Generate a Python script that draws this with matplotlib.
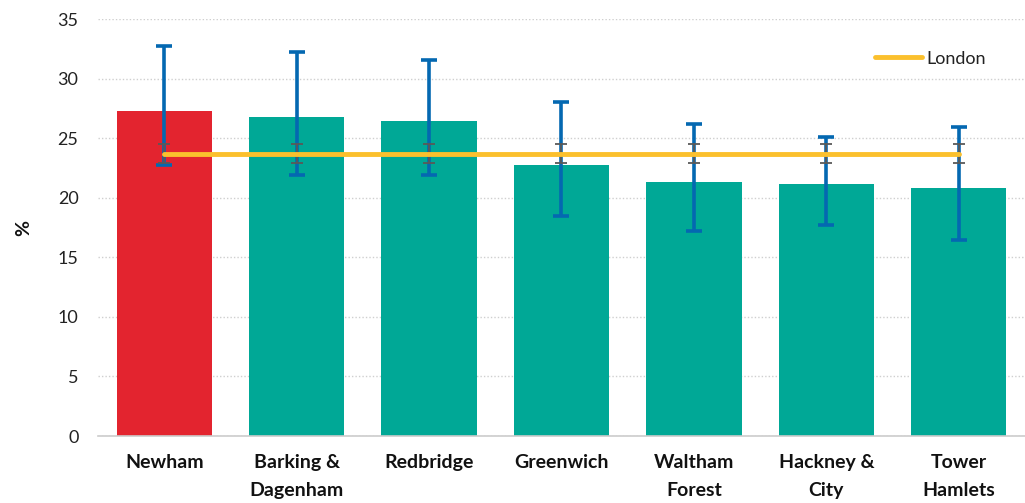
import matplotlib
matplotlib.use("Agg")
import matplotlib.pyplot as plt
import numpy as np

categories = ["Newham", "Barking &\nDagenham", "Redbridge", "Greenwich",
              "Waltham\nForest", "Hackney &\nCity", "Tower\nHamlets"]
values = [27.3, 26.8, 26.4, 22.75, 21.3, 21.15, 20.8]
ci_low = [22.75, 21.9, 21.9, 18.5, 17.2, 17.7, 16.45]
ci_high = [32.7, 32.2, 31.6, 28.0, 26.2, 25.1, 25.9]
london = 23.7
london_low = 22.9
london_high = 24.5
yticks = [0, 5, 10, 15, 20, 25, 30, 35]

plt.rcParams['font.family'] = ['Lato', 'DejaVu Sans']

fig = plt.figure(figsize=(10.25, 5.03), dpi=100)
ax = fig.add_axes([0.0956, 0.1332, 0.9044, 0.8290])

x = np.arange(len(categories))
colors = ["#E3242F"] + ["#00A896"] * (len(categories) - 1)
ax.bar(x, values, width=0.72, color=colors, zorder=2)

vals = np.array(values)
yerr = np.array([vals - np.array(ci_low), np.array(ci_high) - vals])
ax.errorbar(x, vals, yerr=yerr, fmt='none', ecolor="#0468B1", elinewidth=2.6,
            capsize=5.5, capthick=2.6, zorder=3)

lon = np.full(len(x), london)
ax.errorbar(x, lon, yerr=[lon - london_low, london_high - lon], fmt='none',
            ecolor="#595959", elinewidth=1.3, capsize=4.5, capthick=1.3, zorder=4)
ax.plot(x, lon, color="#FBC02D", lw=3.5, solid_capstyle='round', zorder=5, label="London")

ax.set_xlim(-0.5, 6.5)
ax.set_ylim(0, 35)
ax.set_yticks(yticks)
ax.set_xticks(x)
ax.set_xticklabels(categories, fontsize=14, fontweight='bold', color="#111111",
                   linespacing=1.75)
ax.tick_params(axis='y', labelsize=13, colors="#222222", length=0, pad=14)
ax.tick_params(axis='x', length=0, pad=13)

ax.grid(axis='y', color="#CFCFCF", linestyle=(0, (1, 1.5)), linewidth=1, zorder=0)
ax.set_axisbelow(True)
for s in ["top", "right", "left"]:
    ax.spines[s].set_visible(False)
ax.spines["bottom"].set_color("#CCCCCC")
ax.spines["bottom"].set_linewidth(1.2)

ax.set_ylabel("%", fontsize=14, fontweight='bold', color="#111111", labelpad=18)

leg = ax.legend(loc="upper right", bbox_to_anchor=(0.975, 0.963), frameon=False,
                fontsize=13, handlelength=2.6, handletextpad=0.25)
for t in leg.get_texts():
    t.set_color("#222222")

fig.savefig("out.png", dpi=100)
